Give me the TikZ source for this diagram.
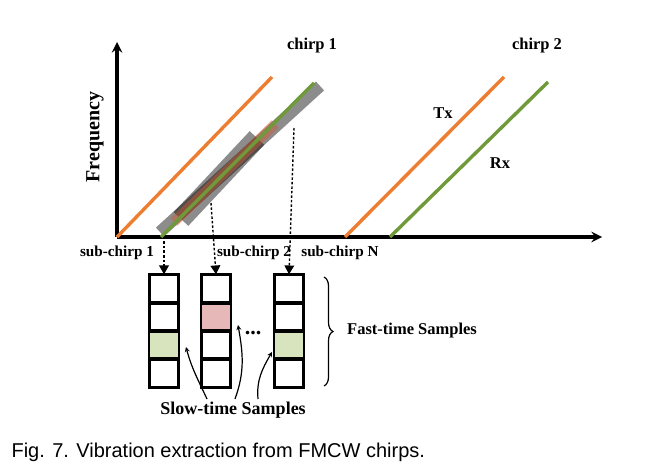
\documentclass[tikz,border=0pt]{standalone}
\usepackage{fontspec}
\setmainfont{Liberation Serif}
\newfontfamily\capfont{Liberation Sans}
\usetikzlibrary{arrows, decorations.pathreplacing}
\definecolor{txorange}{RGB}{237,125,49}
\definecolor{rxgreen}{RGB}{112,153,58}
\definecolor{cellgreen}{RGB}{215,228,189}
\definecolor{cellpink}{RGB}{230,185,184}
\tikzstyle{axis} = [line width=3.6pt,->,>=stealth]
\tikzstyle{lbl} = [font=\bfseries\fontsize{16.5}{16.5}\selectfont, inner sep=1pt]
\tikzstyle{sub} = [font=\bfseries\fontsize{15.2}{15.2}\selectfont, inner sep=1pt]
\tikzstyle{cell} = [draw, line width=1.6pt, minimum width=28pt, minimum height=28pt, inner sep=0pt]
\tikzstyle{probe} = [line width=1.4pt, dash pattern=on 2.5pt off 2pt, -triangle 60]
\begin{document}
\begin{tikzpicture}[x=1pt, y=-1pt]
\useasboundingbox (0,0) rectangle (672,465);

% axes
\coordinate (O) at (117,237);
\coordinate (ytop) at (117,42);
\coordinate (xend) at (602,237);
\draw[axis] (O) -- (ytop);
\draw[axis] (O) -- (xend);
\node[lbl, rotate=90, font=\bfseries\fontsize{20}{20}\selectfont] (freq) at (95,137) {Frequency};

% sub-chirp windows
\draw[line width=12pt, black, opacity=0.45] (160,232) -- (320,86);
\draw[line width=20pt, black, opacity=0.45] (181,219) -- (257,138);
\draw[line width=10pt, brown!70!red, opacity=0.45] (174,222) -- (275,124);

% chirp 1
\draw[txorange, line width=3.4pt] (O) -- (272,77);
\draw[rxgreen, line width=3.4pt] (161,237) -- (314,83);
% chirp 2
\draw[txorange, line width=3.4pt] (345,237) -- (504,77);
\draw[rxgreen, line width=3.4pt] (390,237) -- (548,82);

\node[lbl] (c1) at (312,46) {chirp 1};
\node[lbl] (c2) at (537,46) {chirp 2};
\node[lbl] (tx) at (443,113) {Tx};
\node[lbl] (rx) at (500,163) {Rx};

\node[sub] (s1) at (117,253) {sub-chirp 1};
\node[sub] (s2) at (254,253) {sub-chirp 2};
\node[sub] (sN) at (340,253) {sub-chirp N};

% sample columns
\foreach \name/\x in {a/164, b/216, c/289}{
  \foreach \k in {1,...,4}
    \node[cell] (\name\k) at (\x,275+28*\k-14) {};
}
\fill[cellgreen] (a3.south west) rectangle (a3.north east);
\fill[cellpink]  (b2.south west) rectangle (b2.north east);
\fill[cellgreen] (c3.south west) rectangle (c3.north east);
\foreach \name in {a,b,c}
  \foreach \k in {1,...,4}
    \draw[line width=1.6pt] (\name\k.south west) rectangle (\name\k.north east);

\coordinate (pa) at (164,237);
\coordinate (pb) at (211,203);
\coordinate (pc) at (294,128);
\draw[probe] (pa) -- (a1.north);
\draw[probe] (pb) -- (b1.north);
\draw[probe] (pc) -- (c1.north);

\node[font=\bfseries\fontsize{22}{22}\selectfont] (dots) at (253,333) {...};

\draw[decorate, decoration={brace, amplitude=9pt}, line width=1.2pt] (324,277) -- (324,386);
\node[lbl, anchor=west] (fast) at (346,331) {Fast-time Samples};

\node[lbl, font=\bfseries\fontsize{18}{18}\selectfont] (slow) at (233,410) {Slow-time Samples};
\draw[line width=1.2pt, ->, >=stealth] (207,399) to[out=115, in=-75] (186,347);
\draw[line width=1.2pt, ->, >=stealth] (235,399) to[out=70, in=-80] (238,325);
\draw[line width=1.2pt, ->, >=stealth] (258,399) to[out=95, in=-120] (272,352);

\node[anchor=west, font=\capfont\fontsize{20}{20}\selectfont] (cap) at (8,452) {Fig. 7. Vibration extraction from FMCW chirps.};
\end{tikzpicture}
\end{document}
